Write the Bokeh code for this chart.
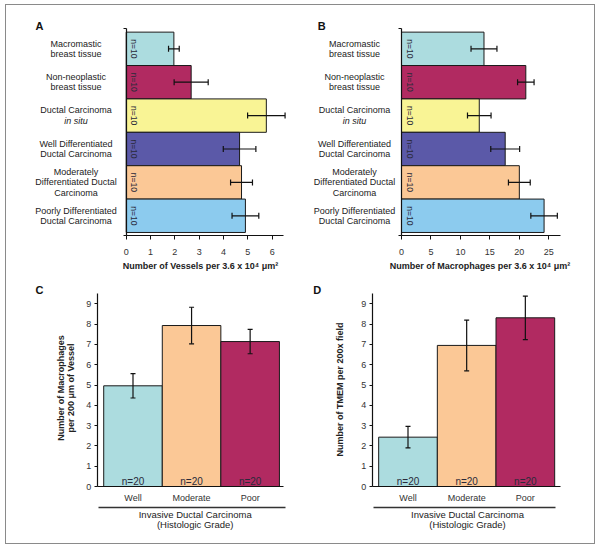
import math
from bokeh.plotting import figure
from bokeh.models import (ColumnDataSource, Range1d, FixedTicker, Whisker, TeeHead,
                          LinearAxis)
from bokeh.layouts import column, row
from bokeh.core.properties import value
from bokeh.embed import file_html
from bokeh.resources import INLINE

# ---------------- data ----------------
tissue_categories = [
    "Macromastic\nbreast tissue",
    "Non-neoplastic\nbreast tissue",
    "Ductal Carcinoma\nin situ",
    "Well Differentiated\nDuctal Carcinoma",
    "Moderately\nDifferentiated Ductal\nCarcinoma",
    "Poorly Differentiated\nDuctal Carcinoma",
]
tissue_n = ["n=10", "n=10", "n=10", "n=10", "n=10", "n=10"]
vessels = [1.96, 2.67, 5.76, 4.66, 4.74, 4.90]
vessels_err = [0.22, 0.70, 0.77, 0.67, 0.45, 0.55]
macrophages = [14.0, 21.1, 13.2, 17.6, 20.0, 24.2]
macrophages_err = [2.2, 1.4, 2.0, 2.45, 1.85, 2.25]
tissue_colors = ["#acdcdf", "#b12a61", "#f9f495", "#5b59a8", "#fbc896", "#8ccbee"]

grades = ["Well", "Moderate", "Poor"]
grade_n = ["n=20", "n=20", "n=20"]
group_label = ["Invasive Ductal Carcinoma", "(Histologic Grade)"]
macro_per_vessel = [4.96, 7.93, 7.14]
macro_per_vessel_err = [0.60, 0.90, 0.60]
tmem = [2.43, 6.95, 8.31]
tmem_err = [0.53, 1.25, 1.07]
grade_colors = ["#acdcdf", "#fbc896", "#b12a61"]

x_ticks_a = [0, 1, 2, 3, 4, 5, 6]
x_ticks_b = [0, 5, 10, 15, 20, 25]
y_ticks_cd = [0, 1, 2, 3, 4, 5, 6, 7, 8, 9]

FONT = "Liberation Sans"
TXT = "#222222"
AX = "#111111"

# ------------- layout (page pixels) -------------
ORIGIN_X, ORIGIN_Y = 6, 5          # inside the 1px frame
COL_W = 294
TOP_H, BOT_H = 275, 263


class Mapper:
    """Pixel <-> data helper for one panel (figure frame == whole canvas)."""

    def __init__(self, left, top, w, h, px0, xv0, xppu, py0, yv0, yppu):
        self.left, self.top, self.w, self.h = left, top, w, h
        self.px0, self.xv0, self.xppu = px0, xv0, xppu
        self.py0, self.yv0, self.yppu = py0, yv0, yppu

    def x(self, px):
        return self.xv0 + (px - self.px0) / self.xppu

    def y(self, py):
        return self.yv0 + (self.py0 - py) / self.yppu

    def dy(self, dpx):
        return dpx / self.yppu

    def fig(self):
        p = figure(width=self.w, height=self.h,
                   x_range=Range1d(self.x(self.left), self.x(self.left + self.w)),
                   y_range=Range1d(self.y(self.top + self.h), self.y(self.top)),
                   output_backend="svg", toolbar_location=None, tools="",
                   x_axis_type=None, y_axis_type=None, min_border=0)
        p.outline_line_color = None
        p.grid.visible = False
        p.border_fill_color = "white"
        p.background_fill_color = "white"
        return p


def style_axis(ax, tick_out, standoff, labels=True):
    ax.axis_line_color = AX
    ax.axis_line_width = 1.2
    ax.major_tick_line_color = AX
    ax.major_tick_in = 0
    ax.major_tick_out = tick_out
    ax.minor_tick_line_color = None
    ax.major_label_standoff = standoff
    ax.major_label_text_font = FONT
    ax.major_label_text_font_size = "9px"
    ax.major_label_text_color = "#333333" if labels else None


def add_text(p, xs, ys, texts, size="9px", style="normal", align="center", angle=0.0,
             baseline="middle", color=TXT):
    p.text(x=xs, y=ys, text=texts, angle=angle, text_align=align, text_baseline=baseline,
           text_font=value(FONT), text_font_size=size, text_font_style=style,
           text_color=color)


Y_LO, Y_HI = -0.1, len(tissue_categories) + 0.1
BAR_TOP_PX, BAR_PPU = 28.3, 33.39


def hbar_panel(m, values, errs, ticks, xmax, xlabel, xlabel_px, cat_px, letter, letter_px):
    n = len(values)
    pos = [n - i - 0.5 for i in range(n)]
    src = ColumnDataSource(dict(y=pos, v=values, lo=[v - e for v, e in zip(values, errs)],
                                hi=[v + e for v, e in zip(values, errs)],
                                c=tissue_colors, n=tissue_n))
    p = m.fig()
    p.hbar(y="y", left=0, right="v", height=1.0, source=src, fill_color="c",
           line_color="#1a1a1a", line_width=1)
    p.text(x=0, y="y", text="n", source=src, angle=-math.pi / 2, x_offset=3,
           text_align="center", text_baseline="bottom", text_font=value(FONT),
           text_font_size="8.5px", text_color="#2a2a3a")
    head = dict(size=6, line_color=AX, line_width=1.2)
    p.add_layout(Whisker(source=src, base="y", lower="lo", upper="hi", dimension="width",
                         line_color=AX, line_width=1.2, level="overlay",
                         upper_head=TeeHead(**head), lower_head=TeeHead(**head)))
    xa = LinearAxis(ticker=FixedTicker(ticks=ticks), fixed_location=Y_LO, bounds=(0, xmax))
    style_axis(xa, 4, 9)
    p.add_layout(xa, "below")
    ya = LinearAxis(ticker=FixedTicker(ticks=[Y_LO, Y_HI]), fixed_location=0,
                    bounds=(Y_LO, Y_HI))
    style_axis(ya, 3, 0, labels=False)
    p.add_layout(ya, "left")
    # axis title
    add_text(p, [m.x(xlabel_px[0])], [m.y(xlabel_px[1])], [xlabel], style="bold")
    # category labels
    xs, ys, txt, sty = [], [], [], []
    for cat, yc in zip(tissue_categories, pos):
        lines = cat.split("\n")
        k = len(lines)
        for j, ln in enumerate(lines):
            xs.append(m.x(cat_px))
            ys.append(yc + m.dy(((k - 1) / 2 - j) * 10.3))
            txt.append(ln)
            sty.append("italic" if ln == "in situ" else "normal")
    csrc = ColumnDataSource(dict(x=xs, y=ys, t=txt, s=sty))
    p.text(x="x", y="y", text="t", source=csrc, text_align="center", text_baseline="middle",
           text_font=value(FONT), text_font_size="9px", text_color=TXT, text_font_style="s")
    add_text(p, [m.x(letter_px[0])], [m.y(letter_px[1])], [letter], size="11px",
             style="bold", align="left", color=AX)
    return p


def vbar_panel(m, values, errs, ylabel_lines, ylabel_px, axis_px, bracket_px, group_px,
               letter, letter_px):
    pos = list(range(len(values)))
    src = ColumnDataSource(dict(x=pos, v=values, lo=[v - e for v, e in zip(values, errs)],
                                hi=[v + e for v, e in zip(values, errs)],
                                c=grade_colors, n=grade_n))
    p = m.fig()
    p.vbar(x="x", bottom=0, top="v", width=1.0, source=src, fill_color="c",
           line_color="#1a1a1a", line_width=1)
    p.text(x="x", y=0, text="n", source=src, text_align="center", text_baseline="bottom",
           text_font=value(FONT), text_font_size="10px", text_color="#2a2a3a")
    head = dict(size=5, line_color=AX, line_width=1.2)
    p.add_layout(Whisker(source=src, base="x", lower="lo", upper="hi", dimension="height",
                         line_color=AX, line_width=1.2, level="overlay",
                         upper_head=TeeHead(**head), lower_head=TeeHead(**head)))
    x_left, x_right = m.x(axis_px[0]), m.x(axis_px[1])
    ya = LinearAxis(ticker=FixedTicker(ticks=y_ticks_cd), fixed_location=x_left,
                    bounds=(0, 9.5))
    style_axis(ya, 3, 3)
    p.add_layout(ya, "left")
    xa = LinearAxis(ticker=FixedTicker(ticks=pos), fixed_location=0,
                    bounds=(x_left, x_right))
    style_axis(xa, 0, 6)
    xa.major_label_overrides = {i: g for i, g in enumerate(grades)}
    p.add_layout(xa, "below")
    ga = LinearAxis(ticker=FixedTicker(ticks=[]), fixed_location=m.y(bracket_px[2]),
                    bounds=(m.x(bracket_px[0]), m.x(bracket_px[1])))
    style_axis(ga, 0, 0, labels=False)
    ga.axis_line_color = "#333333"
    ga.axis_line_width = 1.5
    p.add_layout(ga, "below")
    # group label (two lines)
    add_text(p, [m.x(group_px[0])] * 2, [m.y(group_px[1]), m.y(group_px[1] + 10.3)],
             group_label, size="9.5px")
    # rotated y axis title
    k = len(ylabel_lines)
    xs = [m.x(ylabel_px[0] + (j - (k - 1) / 2) * 10) for j in range(k)]
    add_text(p, xs, [m.y(ylabel_px[1])] * k, ylabel_lines, style="bold", angle=math.pi / 2)
    add_text(p, [m.x(letter_px[0])], [m.y(letter_px[1])], [letter], size="11px",
             style="bold", align="left", color=AX)
    return p


top_y = ORIGIN_Y
bot_y = ORIGIN_Y + TOP_H
left_x = ORIGIN_X
right_x = ORIGIN_X + COL_W

mA = Mapper(left_x, top_y, COL_W, TOP_H, 125.7, 0.0, 24.33, BAR_TOP_PX, Y_HI, BAR_PPU)
mB = Mapper(right_x, top_y, COL_W, TOP_H, 401.0, 0.0, 5.892, BAR_TOP_PX, Y_HI, BAR_PPU)
mC = Mapper(left_x, bot_y, COL_W, BOT_H, 132.5, 0.0, 58.57, 486.0, 0.0, 20.3)
mD = Mapper(right_x, bot_y, COL_W, BOT_H, 407.5, 0.0, 58.67, 486.0, 0.0, 20.3)

pA = hbar_panel(mA, vessels, vessels_err, x_ticks_a, 6.47,
                "Number of Vessels per 3.6 x 10\u2074 \u03bcm\u00b2", (200.0, 265.7),
                75.5, "A", (35.0, 25.0))
pB = hbar_panel(mB, macrophages, macrophages_err, x_ticks_b, 27.0,
                "Number of Macrophages per 3.6 x 10\u2074 \u03bcm\u00b2", (479.5, 265.7),
                354.0, "B", (317.3, 25.0))
pC = vbar_panel(mC, macro_per_vessel, macro_per_vessel_err,
                ["Number of Macrophages", "per 200 \u03bcm of Vessel"], (65.7, 387.5),
                (96.7, 283.0), (97.7, 285.0, 506.7), (194.7, 514.0), "C", (35.0, 289.0))
pD = vbar_panel(mD, tmem, tmem_err, ["Number of TMEM per 200x field"], (339.3, 389.0),
                (371.7, 560.0), (373.3, 555.0, 506.7), (467.0, 514.0), "D", (312.7, 289.0))

layout = column(row(pA, pB), row(pC, pD),
                styles={"border": "1px solid #8a8a8a", "margin-left": "5px",
                        "margin-top": "4px"})

open("out.html", "w").write(file_html(layout, INLINE))
